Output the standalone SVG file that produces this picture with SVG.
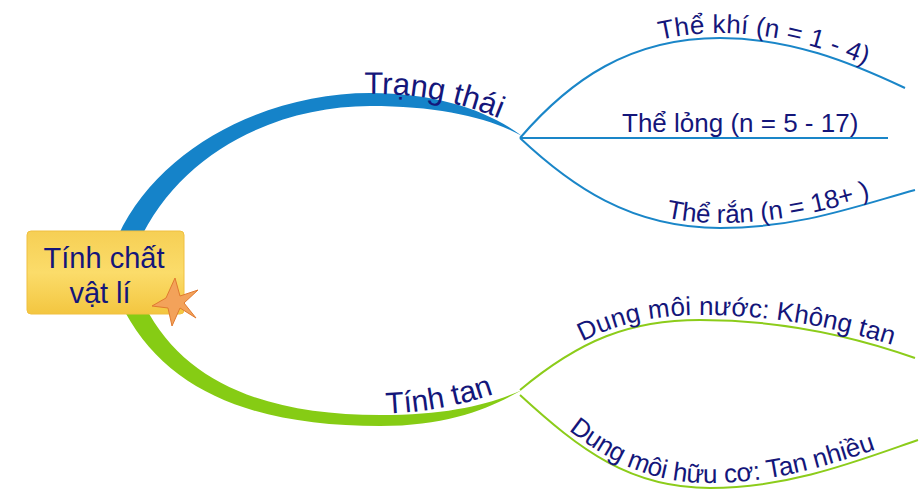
<svg xmlns="http://www.w3.org/2000/svg" xmlns:xlink="http://www.w3.org/1999/xlink" width="924" height="503" viewBox="0 0 924 503">
<style>
text{font-family:"Liberation Sans",Arial,sans-serif;fill:#14167a}
.b{fill:none;stroke:#1a86c8;stroke-width:2}
.g{fill:none;stroke:#8ccc1a;stroke-width:2}
.lbl{font-size:26px}
</style>
<defs>
<linearGradient id="gold" x1="0" y1="0" x2="0" y2="1">
<stop offset="0" stop-color="#f6cf55"/><stop offset="0.5" stop-color="#fbdc6a"/><stop offset="1" stop-color="#f3c640"/>
</linearGradient>
<path id="pKhi" d="M520,138 C570,80 630,38 720,38 C790,38 850,62 905,88"/>
<path id="pRan" d="M520,138 C570,185 630,228 720,228 C800,228 860,205 915,190"/>
<path id="pTrang" d="M360,94 C430,92 480,108 525,130"/>
<path id="pTan" d="M380,414 C440,412 485,400 525,381"/>
<path id="pNuoc" d="M520,390 C580,340 630,320 700,320 C780,320 850,335 915,358"/>
<path id="pHuu" d="M520,395 C580,450 630,488 710,488 C790,488 860,460 918,440"/>
</defs>
<g id="connectors">
<path d="M118,236 C160,145 270,93 370,93 C440,93 490,112 522,136 C490,118 440,106 370,106 C280,106 180,150 138,244 Z" fill="#1583c9"/>
<path d="M125,312 C170,395 260,426 380,426 C450,426 490,408 522,390 C490,404 450,415 380,415 C270,415 185,385 145,306 Z" fill="#86cc14"/>
<use href="#pKhi" class="b"/>
<path d="M520,138 L888,138" class="b"/>
<use href="#pRan" class="b"/>
<use href="#pNuoc" class="g"/>
<use href="#pHuu" class="g"/>
</g>
<g id="n-trangthai"><text font-size="31"><textPath href="#pTrang" startOffset="4">Trạng thái</textPath></text></g>
<g id="n-tinhtan"><text font-size="30"><textPath href="#pTan" startOffset="6">Tính tan</textPath></text></g>
<g id="n-khi"><text class="lbl" dy="-5"><textPath href="#pKhi" startOffset="172">Thể khí (n = 1 - 4)</textPath></text></g>
<g id="n-long"><text class="lbl" x="622" y="132">Thể lỏng (n = 5 - 17)</text></g>
<g id="n-ran"><text class="lbl" dy="-5"><textPath href="#pRan" startOffset="170">Thể rắn (n = 18+ )</textPath></text></g>
<g id="n-nuoc"><text class="lbl" dy="-5"><textPath href="#pNuoc" startOffset="78">Dung môi nước: Không tan</textPath></text></g>
<g id="n-huu"><text class="lbl" dy="-5"><textPath href="#pHuu" startOffset="60">Dung môi hữu cơ: Tan nhiều</textPath></text></g>
<g id="n-root">
<rect x="27" y="231" width="157" height="83" rx="4" fill="url(#gold)" stroke="#f0c040"/>
<text font-size="29" x="104" y="268" text-anchor="middle">Tính chất</text>
<text font-size="29" x="100" y="303" text-anchor="middle">vật lí</text>
<polygon points="175,278 180,296 198,290 184,303 196,318 180,308 172,326 168,308 152,306 166,298" fill="#f3a25a" stroke="#e07a30" stroke-width="1"/>
</g>
</svg>
